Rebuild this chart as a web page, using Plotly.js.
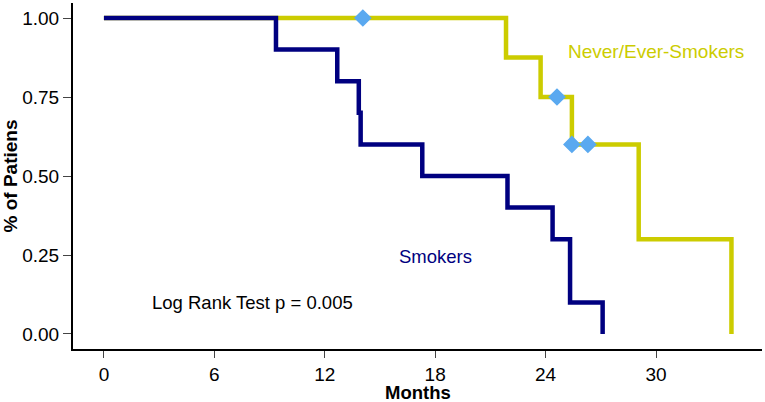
<!DOCTYPE html>
<html>
<head>
<meta charset="utf-8">
<script src="https://cdn.plot.ly/plotly-3.0.1.min.js"></script>
<style>html,body{margin:0;padding:0;background:#fff;}#chart{width:765px;height:402px;}</style>
</head>
<body>
<div id="chart"></div>
<script>
// Kaplan-Meier step data
const smokersMonths = [0, 9.35, 12.68, 13.85, 13.95, 17.3, 21.93, 24.38, 25.33, 27.1];
const smokersSurv   = [1, 0.9, 0.8, 0.7, 0.6, 0.5, 0.4, 0.3, 0.1, 0];
const neverMonths   = [0, 21.85, 23.73, 25.43, 29.06, 34.1];
const neverSurv     = [1, 0.875, 0.75, 0.6, 0.3, 0];
const censorMonths  = [14.07, 24.62, 25.43, 26.3];
const censorSurv    = [1, 0.75, 0.6, 0.6];
const xTicks = [0, 6, 12, 18, 24, 30];
const yTicks = [0, 0.25, 0.5, 0.75, 1];
const yTickLabels = ['0.00', '0.25', '0.50', '0.75', '1.00'];

const navy = '#000080';
const yellow = '#cccc00';

const traces = [
  {x: neverMonths, y: neverSurv, mode: 'lines', line: {shape: 'hv', color: yellow, width: 4.5}, hoverinfo: 'skip'},
  {x: smokersMonths, y: smokersSurv, mode: 'lines', line: {shape: 'hv', color: navy, width: 4.5}, hoverinfo: 'skip'},
  {x: censorMonths, y: censorSurv, mode: 'markers', marker: {symbol: 'diamond', size: 12, color: '#5aa9f0', line: {color: '#5aa9f0', width: 1.5}}, hoverinfo: 'skip'}
];

const fontFam = 'Arial, "Liberation Sans", sans-serif';
const layout = {
  width: 765, height: 402,
  margin: {l: 73, r: 3, t: 3, b: 53},
  paper_bgcolor: '#fff', plot_bgcolor: '#fff',
  showlegend: false,
  font: {family: fontFam, color: '#000'},
  xaxis: {
    range: [-1.68, 35.76], tickvals: xTicks, ticktext: xTicks.map(String),
    showgrid: false, zeroline: false, showline: true, linecolor: '#000', linewidth: 2,
    ticks: 'outside', ticklen: 7, tickcolor: '#444', tickwidth: 1,
    tickfont: {size: 19, family: fontFam, color: '#000'}
  },
  yaxis: {
    range: [-0.0475, 1.0475], tickvals: yTicks, ticktext: yTickLabels,
    showgrid: false, zeroline: false, showline: true, linecolor: '#000', linewidth: 2,
    ticks: 'outside', ticklen: 8, tickcolor: '#444', tickwidth: 1,
    tickfont: {size: 19, family: fontFam, color: '#000'},
    title: {text: '<b>% of Patiens</b>', font: {size: 19, family: fontFam, color: '#000'}, standoff: 4}
  },
  annotations: [
    {x: 0.5, y: -0.093, xref: 'paper', yref: 'paper', text: '<b>Months</b>', showarrow: false,
     font: {size: 18.5, color: '#000', family: fontFam}, xanchor: 'center', yanchor: 'top', borderpad: 0},
    {x: 30, y: 0.895, xref: 'x', yref: 'y', text: 'Never/Ever-Smokers', showarrow: false,
     font: {size: 19, color: yellow, family: fontFam}, xanchor: 'center', yanchor: 'middle'},
    {x: 18, y: 0.245, xref: 'x', yref: 'y', text: 'Smokers', showarrow: false,
     font: {size: 18.5, color: navy, family: fontFam}, xanchor: 'center', yanchor: 'middle'},
    {x: 8.1, y: 0.1, xref: 'x', yref: 'y', text: 'Log Rank Test p = 0.005', showarrow: false,
     font: {size: 18.5, color: '#000', family: fontFam}, xanchor: 'center', yanchor: 'middle'}
  ]
};

Plotly.newPlot('chart', traces, layout, {displayModeBar: false, staticPlot: true});
</script>
</body>
</html>
